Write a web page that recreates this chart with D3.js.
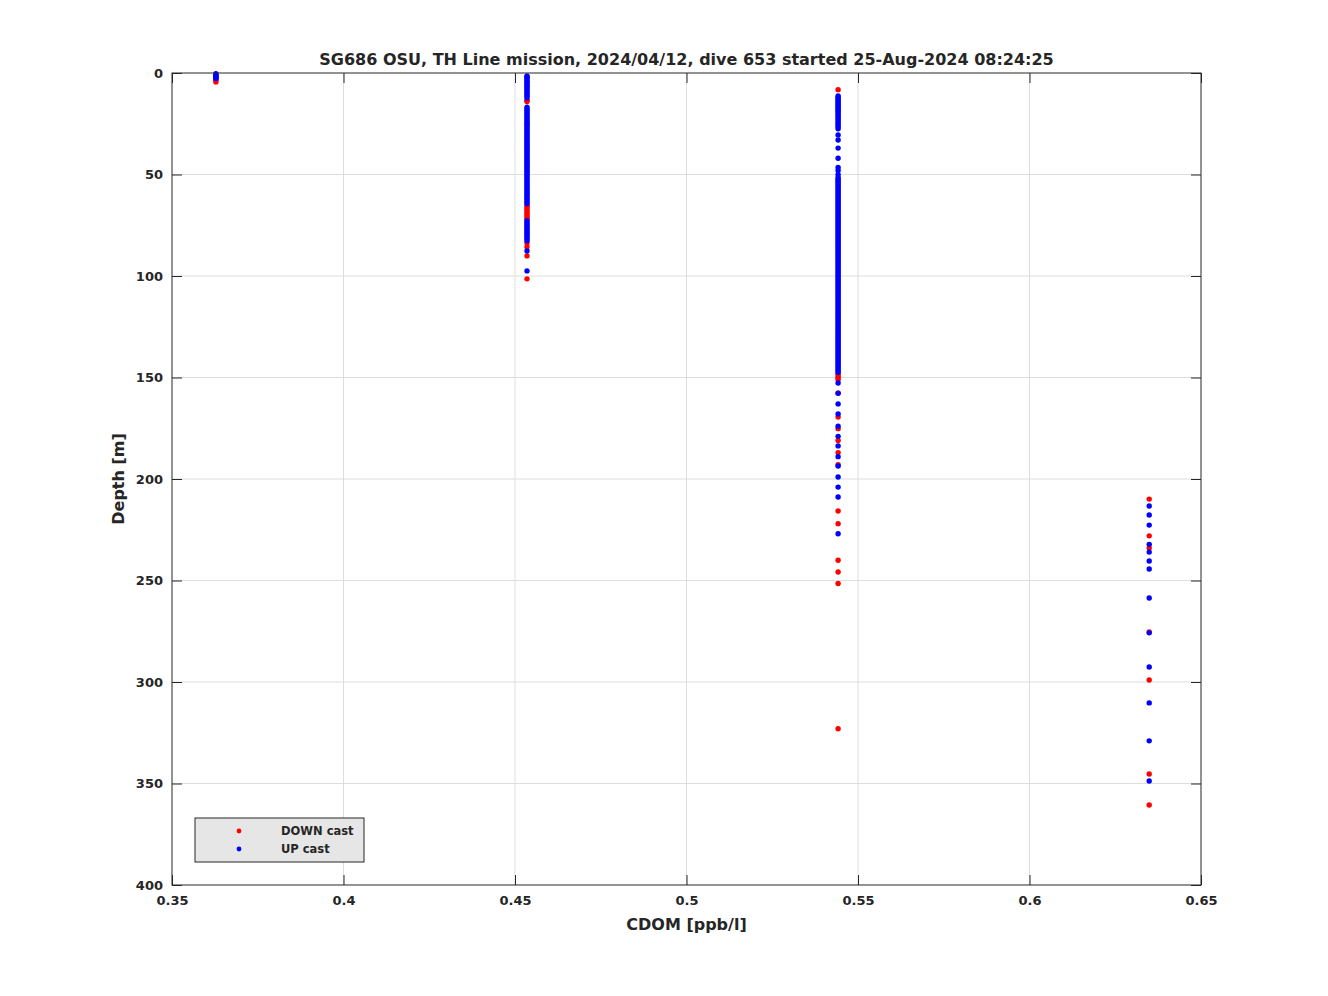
<!DOCTYPE html>
<html>
<head>
<meta charset="utf-8">
<script src="https://cdn.jsdelivr.net/npm/d3@7"></script>
<style>
  body { margin: 0; background: #fff; }
  svg { display: block; }
  text { font-family: "DejaVu Sans", sans-serif; font-weight: bold; fill: #262626; }
</style>
</head>
<body>
<svg id="chart" width="1328" height="996"></svg>
<script>
// ---- data ----
const titleText = "SG686 OSU, TH Line mission, 2024/04/12, dive 653 started 25-Aug-2024 08:24:25";
const xTicks = [0.35, 0.4, 0.45, 0.5, 0.55, 0.6, 0.65];
const xTickLabels = ["0.35", "0.4", "0.45", "0.5", "0.55", "0.6", "0.65"];
const yTicks = [0, 50, 100, 150, 200, 250, 300, 350, 400];
const cdomLevels = [0.3628, 0.4535, 0.5442, 0.6349];

// DOWN cast depths at each CDOM level
const downDepths = [
  [2.8, 3.6, 4.4],
  [1.8, 13.4, 14.1, 24.6, 65.2, 66.1, 67.0, 67.8, 68.7, 69.5, 70.4, 71.2, 72.1, 83.7, 85.7, 90.1, 101.4],
  [8.2, 148.3, 149.2, 150.1, 151.0, 157.6, 169.5, 175.2, 181.0, 187.0, 193.0, 215.8, 222.0, 240.0, 245.8, 251.5, 323.0],
  [209.9, 228.0, 234.0, 275.3, 299.0, 345.3, 360.6]
];
// UP cast depths at each CDOM level
const upDepths = [
  [0.4, 0.9, 1.3, 1.8, 2.2, 2.7],
  [1.5, 2.2, 3.0, 3.8, 4.5, 5.3, 6.1, 6.8, 7.6, 8.4, 9.1, 9.9, 10.7, 11.5, 12.3,
   16.8, 17.6, 18.4, 19.2, 20.0, 20.8, 21.6, 22.4, 23.2, 24.0, 25.2, 26.0, 26.8, 27.6, 28.4, 29.2, 30.0,
   30.8, 31.6, 32.4, 33.2, 34.0, 34.8, 35.6, 36.4, 37.2, 38.0, 38.8, 39.6, 40.4, 41.2, 42.0, 42.8, 43.6,
   44.4, 45.2, 46.0, 46.8, 47.6, 48.4, 49.2, 50.0, 50.8, 51.6, 52.4, 53.2, 54.0, 54.8, 55.6, 56.4, 57.2,
   58.0, 58.8, 59.6, 60.4, 61.2, 62.0, 62.8, 63.6, 64.4,
   72.8, 73.6, 74.4, 75.2, 76.0, 76.8, 77.6, 78.4, 79.2, 80.0, 80.8, 81.6, 82.6, 87.7, 97.5],
  [11.3, 12.0, 12.7, 13.4, 14.1, 14.8, 15.5, 16.2, 16.9, 17.6, 18.3, 19.0, 19.8, 20.6, 21.4, 22.3, 23.1,
   24.0, 24.9, 25.7, 26.6, 27.5, 30.5, 33.0, 37.0, 42.0, 46.5, 48.0, 50.0,
   51.5, 52.3, 53.1, 53.9, 54.7, 55.5, 56.3, 57.1, 57.9, 58.7, 59.5, 60.3, 61.1, 61.9, 62.7, 63.5, 64.3,
   65.1, 65.9, 66.7, 67.5, 68.3, 69.1, 69.9, 70.7, 71.5, 72.3, 73.1, 73.9, 74.7, 75.5, 76.3, 77.1, 77.9,
   78.7, 79.5, 80.3, 81.1, 81.9, 82.7, 83.5, 84.3, 85.1, 85.9, 86.7, 87.5, 88.3, 89.1, 89.9, 90.7, 91.5,
   92.3, 93.1, 93.9, 94.7, 95.5, 96.3, 97.1, 97.9, 98.7, 99.5, 100.3, 101.1, 101.9, 102.7, 103.5, 104.3,
   105.1, 105.9, 106.7, 107.5, 108.3, 109.1, 109.9, 110.7, 111.5, 112.3, 113.1, 113.9, 114.7, 115.5,
   116.3, 117.1, 117.9, 118.7, 119.5, 120.3, 121.1, 121.9, 122.7, 123.5, 124.3, 125.1, 125.9, 126.7,
   127.5, 128.3, 129.1, 129.9, 130.7, 131.5, 132.3, 133.1, 133.9, 134.7, 135.5, 136.3, 137.1, 137.9,
   138.7, 139.5, 140.3, 141.1, 141.9, 142.7, 143.5, 144.3, 145.1, 145.9, 146.7, 147.5,
   152.7, 157.8, 163.0, 168.0, 174.0, 179.0, 183.7, 189.0, 193.6, 199.0, 204.0, 208.9, 227.0],
  [213.3, 217.7, 222.7, 232.2, 236.0, 240.4, 244.3, 258.6, 275.8, 292.6, 310.3, 329.0, 348.8]
];
const seriesNames = ["DOWN cast", "UP cast"];
const seriesColors = ["#ff0000", "#0000ff"];

// ---- layout ----
const svg = d3.select("#chart");
const L = 172, R = 1201, T = 73, B = 885;
const x = d3.scaleLinear().domain([0.35, 0.65]).range([L, R]);
const y = d3.scaleLinear().domain([0, 400]).range([T, B]);

// grid
const grid = svg.append("g");
grid.selectAll("line.gx").data(xTicks.slice(1, -1)).join("line")
  .attr("x1", d => x(d)).attr("x2", d => x(d)).attr("y1", T).attr("y2", B)
  .attr("stroke", "#dedede").attr("stroke-width", 1);
grid.selectAll("line.gy").data(yTicks.slice(1, -1)).join("line")
  .attr("y1", d => y(d)).attr("y2", d => y(d)).attr("x1", L).attr("x2", R)
  .attr("stroke", "#dedede").attr("stroke-width", 1);

// axes (ticks inside, box)
const tl = 10;
const xb = d3.axisBottom(x).tickValues(xTicks).tickFormat((d, i) => xTickLabels[i]).tickSizeInner(-tl).tickSizeOuter(0).tickPadding(11);
const xt = d3.axisTop(x).tickValues(xTicks).tickFormat("").tickSizeInner(-tl).tickSizeOuter(0);
const yl = d3.axisLeft(y).tickValues(yTicks).tickSizeInner(-tl).tickSizeOuter(0).tickPadding(9);
const yr = d3.axisRight(y).tickValues(yTicks).tickFormat("").tickSizeInner(-tl).tickSizeOuter(0);

function styleAxis(g) {
  g.select(".domain").remove();
  g.selectAll(".tick line").attr("stroke", "#262626");
  g.selectAll(".tick text").style("font-size", "13px").style("font-weight", "bold")
    .style("font-family", "DejaVu Sans, sans-serif").attr("fill", "#262626");
}
svg.append("g").attr("transform", `translate(0,${B})`).call(xb).call(styleAxis);
svg.append("g").attr("transform", `translate(0,${T})`).call(xt).call(styleAxis);
svg.append("g").attr("transform", `translate(${L},0)`).call(yl).call(styleAxis);
svg.append("g").attr("transform", `translate(${R},0)`).call(yr).call(styleAxis);

// data points: down first, up on top
const pts = svg.append("g");
[downDepths, upDepths].forEach((series, si) => {
  const flat = [];
  series.forEach((arr, li) => arr.forEach(dep => flat.push({ c: cdomLevels[li], d: dep })));
  pts.append("g").selectAll("circle").data(flat).join("circle")
    .attr("cx", p => x(p.c)).attr("cy", p => y(p.d)).attr("r", 2.7)
    .attr("fill", seriesColors[si]);
});

// box
svg.append("rect").attr("x", L).attr("y", T).attr("width", R - L).attr("height", B - T)
  .attr("fill", "none").attr("stroke", "#262626").attr("stroke-width", 1);

// title & labels
svg.append("text").attr("x", (L + R) / 2).attr("y", 65).attr("text-anchor", "middle")
  .style("font-size", "16px").text(titleText);
svg.append("text").attr("x", (L + R) / 2).attr("y", 930).attr("text-anchor", "middle")
  .style("font-size", "16px").text("CDOM [ppb/l]");
svg.append("text").attr("transform", `translate(124,${(T + B) / 2}) rotate(-90)`).attr("text-anchor", "middle")
  .style("font-size", "16px").text("Depth [m]");

// legend
const lg = svg.append("g");
lg.append("rect").attr("x", 195).attr("y", 818).attr("width", 169).attr("height", 44)
  .attr("fill", "#e6e6e6").attr("stroke", "#262626").attr("stroke-width", 1);
seriesNames.forEach((n, i) => {
  lg.append("circle").attr("cx", 239).attr("cy", 831 + i * 18).attr("r", 2.4).attr("fill", seriesColors[i]);
  lg.append("text").attr("x", 281).attr("y", 835 + i * 18).style("font-size", "11.5px").attr("fill", "#000").text(n);
});
</script>
</body>
</html>
